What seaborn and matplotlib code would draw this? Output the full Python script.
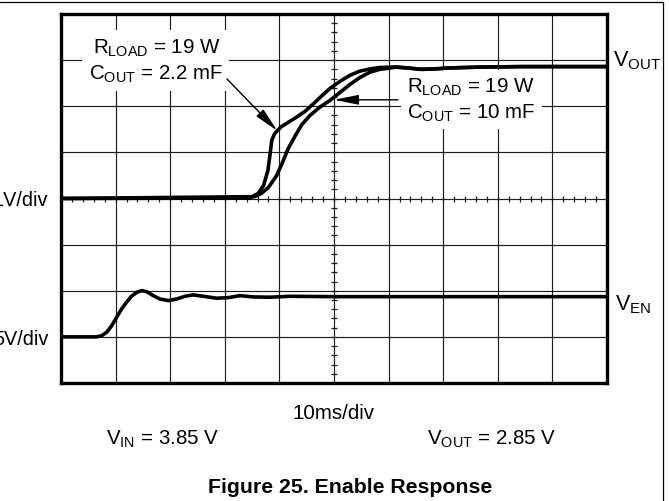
import numpy as np
import pandas as pd
import matplotlib
matplotlib.use("Agg")
import matplotlib.pyplot as plt
from matplotlib.lines import Line2D
import seaborn as sns

# ---- scope settings -------------------------------------------------------
time_per_div_ms = 10        # horizontal: 10 ms/div
vout_per_div = 1.0          # channel 1: 1 V/div
ven_per_div = 5.0           # channel 2: 5 V/div
vout_ground_div = 4         # channel 1 ground marker (divisions from bottom)
ven_ground_div = 1          # channel 2 ground marker

# ---- traces (time in ms, voltage in V) -----------------------------------
# VOUT, RLOAD = 19, COUT = 2.2
t_cout_small = [0, 34.6, 36.1, 37.1, 37.9, 38.3, 38.6, 39.1, 39.6, 40.4, 41.6,
                43.1, 44.7, 46.2, 47.8, 49.3, 51.1, 52.9, 54.7, 56.6, 58.4,
                61.0, 63.5, 66.0, 68.5, 71.0, 74.0, 77.0, 85.0, 100.0]
v_cout_small = [0, 0.01, 0.11, 0.28, 0.61, 0.97, 1.26, 1.40, 1.47, 1.56, 1.65,
                1.76, 1.89, 2.05, 2.23, 2.39, 2.54, 2.67, 2.76, 2.81, 2.84,
                2.85, 2.83, 2.80, 2.81, 2.83, 2.84, 2.85, 2.86, 2.86]

# VOUT, RLOAD = 19, COUT = 10
t_cout_large = [0, 35.5, 36.7, 38.0, 39.5, 40.6, 41.6, 42.9, 44.1, 45.6, 47.4,
                49.3, 51.1, 52.9, 54.7, 56.6, 58.4, 60.3, 61.5, 63.5, 66.0,
                68.5, 71.0, 74.0, 77.0, 85.0, 100.0]
v_cout_large = [0, 0.04, 0.11, 0.24, 0.50, 0.79, 1.08, 1.36, 1.60, 1.80, 1.98,
                2.13, 2.30, 2.47, 2.62, 2.74, 2.80, 2.83, 2.85, 2.83, 2.80,
                2.81, 2.83, 2.84, 2.85, 2.86, 2.86]

# VEN
t_en = [0, 6.5, 7.45, 8.37, 9.28, 10.2, 11.1, 12.0, 12.9, 13.9, 14.8, 15.7,
        16.9, 18.1, 19.7, 21.2, 22.7, 24.2, 26.1, 28.5, 30.6, 32.8, 35.2,
        38.3, 41.9, 50.0, 100.0]
v_en = [0, 0, 0.13, 0.50, 1.21, 2.13, 3.03, 3.75, 4.40, 4.84, 5.01, 4.90,
        4.47, 4.11, 3.93, 4.11, 4.40, 4.55, 4.40, 4.19, 4.25, 4.47, 4.33,
        4.30, 4.40, 4.36, 4.36]

x_divs = 10
y_divs = 8

# ---- figure ---------------------------------------------------------------
sns.set_theme(style="white")
plt.rcParams["font.family"] = ["Liberation Sans", "DejaVu Sans"]
plt.rcParams["text.color"] = "black"

W, H = 669, 502
fig = plt.figure(figsize=(W / 100, H / 100), dpi=100)
fig.patch.set_facecolor("white")


def px(x, y):
    """Figure-fraction position from pixel offsets (origin top-left)."""
    return x / W, 1 - y / H


ax_l, ax_r, ax_t, ax_b = 61, 607, 15, 384
ax = fig.add_axes([ax_l / W, 1 - ax_b / H, (ax_r - ax_l) / W, (ax_b - ax_t) / H])
ax.set_facecolor("white")

x_max = x_divs * time_per_div_ms
ax.set_xlim(0, x_max)
ax.set_ylim(0, y_divs)

# graticule
ax.set_xticks(np.arange(0, x_max + 1, time_per_div_ms))
ax.set_yticks(np.arange(0, y_divs + 1, 1))
ax.tick_params(length=0, labelbottom=False, labelleft=False)
ax.grid(True, color="#1e1e1e", lw=0.85)
ax.set_axisbelow(True)
for sp in ax.spines.values():
    sp.set_visible(True)
    sp.set_color("black")
    sp.set_linewidth(2.4)
    sp.set_zorder(6)

# minor tick marks along the centre cross
xc, yc = x_max / 2, y_divs / 2
minor_x = np.arange(0, x_max + 0.01, time_per_div_ms / 5)
minor_y = np.arange(0, y_divs + 0.01, 0.2)
ax.plot(minor_x, np.full_like(minor_x, yc), ls="none", marker="|",
        ms=5, mew=0.9, color="#1e1e1e", zorder=1)
ax.plot(np.full_like(minor_y, xc), minor_y, ls="none", marker="_",
        ms=5, mew=0.9, color="#1e1e1e", zorder=1)

# traces, shifted to their channel positions
df_small = pd.DataFrame({"t": t_cout_small,
                         "div": vout_ground_div + np.array(v_cout_small) / vout_per_div})
df_large = pd.DataFrame({"t": t_cout_large,
                         "div": vout_ground_div + np.array(v_cout_large) / vout_per_div})
df_en = pd.DataFrame({"t": t_en,
                      "div": ven_ground_div + np.array(v_en) / ven_per_div})

for d in (df_small, df_large, df_en):
    sns.lineplot(data=d, x="t", y="div", ax=ax, color="black", lw=2.6,
                 estimator=None, sort=False, zorder=5,
                 solid_joinstyle="round", solid_capstyle="butt")
ax.set_xlabel("")
ax.set_ylabel("")

# ---- annotations ----------------------------------------------------------
fs = 14.8
box = dict(facecolor="white", edgecolor="none", pad=4.5)

ax.text(29.3, 7.17, r"$\mathregular{R_{LOAD}}$ = 19 W", fontsize=fs,
        ha="right", va="baseline", bbox=box, zorder=3)
ax.text(29.6, 6.59, r"$\mathregular{C_{OUT}}$ = 2.2 mF", fontsize=fs,
        ha="right", va="baseline", bbox=box, zorder=3)

ax.text(63.4, 6.31, r"$\mathregular{R_{LOAD}}$ = 19 W", fontsize=fs,
        ha="left", va="baseline", bbox=box, zorder=3)
ax.text(63.4, 5.76, r"$\mathregular{C_{OUT}}$ = 10 mF", fontsize=fs,
        ha="left", va="baseline", bbox=box, zorder=3)

arrow = dict(arrowstyle="-|>,head_length=1.5,head_width=0.3", color="black",
             lw=1.0, shrinkA=0, shrinkB=0, mutation_scale=10)
tip_small = (t_cout_small[8], vout_ground_div + v_cout_small[8] / vout_per_div)
ax.annotate("", xy=tip_small, xytext=(30.4, 6.59), arrowprops=arrow, zorder=4)
ax.annotate("", xy=(50.0, 6.14), xytext=(61.7, 6.14), arrowprops=arrow, zorder=4)

# channel labels
fig.text(*px(613, 66.7), r"V$\mathregular{_{OUT}}$", fontsize=15.5,
         ha="left", va="baseline")
fig.text(*px(615, 310), r"V$\mathregular{_{EN}}$", fontsize=15.5,
         ha="left", va="baseline")
fig.text(*px(48.3, 206.5), "1V/div", fontsize=14.3, ha="right", va="baseline")
fig.text(*px(48.3, 345), "5V/div", fontsize=14.3, ha="right", va="baseline")

fig.text(*px(334, 419.3), "10ms/div", fontsize=fs, ha="center", va="baseline")
fig.text(*px(106, 445), r"$\mathregular{V_{IN}}$ = 3.85 V", fontsize=fs,
         ha="left", va="baseline")
fig.text(*px(427, 445), r"$\mathregular{V_{OUT}}$ = 2.85 V", fontsize=fs,
         ha="left", va="baseline")
fig.text(*px(350, 493), "Figure 25. Enable Response", fontsize=15.3,
         fontweight="bold", ha="center", va="baseline")

# page frame (top and right rules)
fig.add_artist(Line2D([0, 663.3 / W], [1 - 2.7 / H, 1 - 2.7 / H],
                      transform=fig.transFigure, color="black", lw=0.9))
fig.add_artist(Line2D([663.3 / W, 663.3 / W], [0, 1 - 2.7 / H],
                      transform=fig.transFigure, color="black", lw=0.9))

fig.savefig("out.png", dpi=100, facecolor="white")
